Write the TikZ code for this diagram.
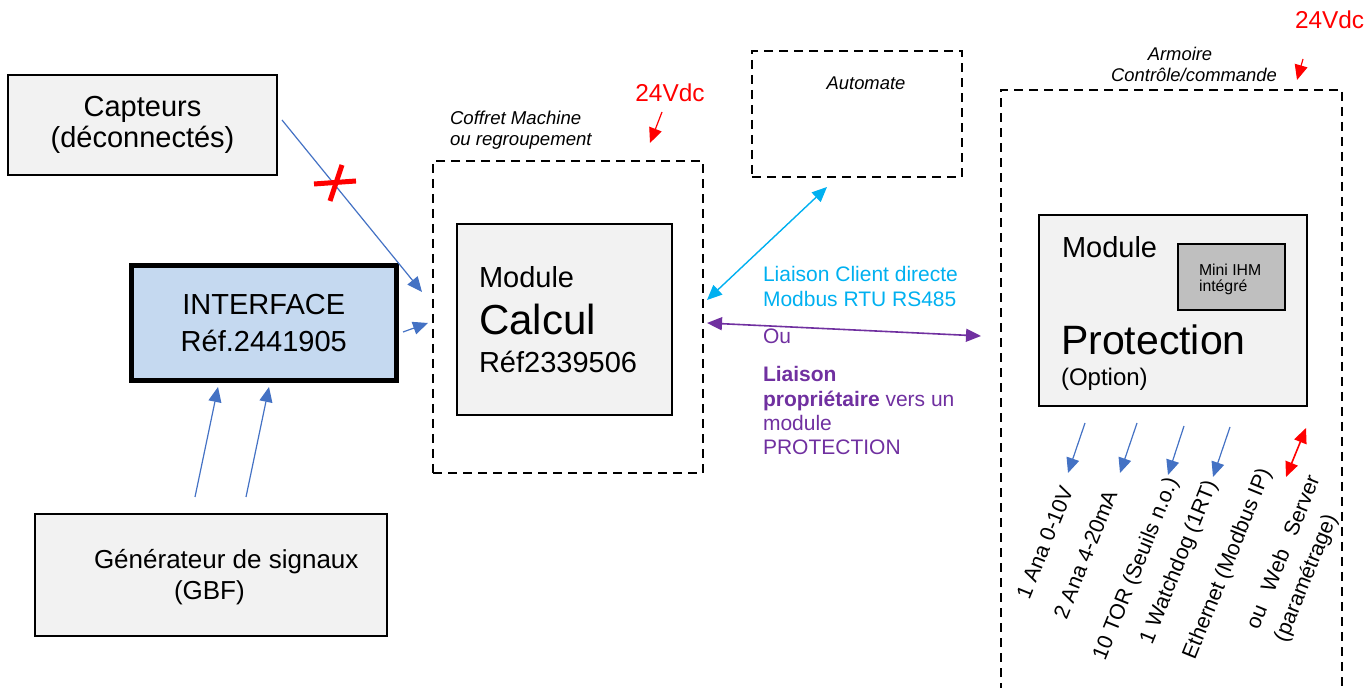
\documentclass[tikz,border=0pt]{standalone}
\usepackage{fontspec}
\setmainfont{Liberation Sans}
\usetikzlibrary{arrows.meta,calc}
\definecolor{boxgrey}{HTML}{F2F2F2}
\definecolor{ifblue}{HTML}{C5D9F0}
\definecolor{arrblue}{HTML}{4472C4}
\definecolor{cyanc}{HTML}{00B0F0}
\definecolor{purp}{HTML}{7030A0}
\definecolor{ihmgrey}{HTML}{BFBFBF}
\newcommand{\myfs}[2]{\fontsize{#1}{#2}\selectfont}
\begin{document}
\begin{tikzpicture}[x=0.5pt,y=-0.5pt,
  box/.style={draw=black,line width=1pt,fill=boxgrey,inner sep=0pt,outer sep=0pt},
  dbox/.style={draw=black,line width=1.3pt,dash pattern=on 4.5pt off 3pt,inner sep=0pt,outer sep=0pt},
  txt/.style={inner sep=0pt,outer sep=0pt,text=black},
  arrtip/.style={-{Triangle[length=7.5pt,width=6.5pt]}},
  darrtip/.style={{Triangle[length=7.5pt,width=6.5pt]}-{Triangle[length=7.5pt,width=6.5pt]}},
  bluearr/.style={draw=arrblue,line width=0.6pt,arrtip},
  rlab/.style={inner sep=0pt,outer sep=0pt,rotate=68,anchor=east,font=\myfs{10.7}{12}}
]
\useasboundingbox (0,0) rectangle (1364,688);

% --- left side boxes
\node[box,minimum width=134.5pt,minimum height=50pt,align=center,font=\myfs{14.5}{15.3}] (capt) at (142.5,125) {Capteurs\\(déconnectés)};
\node[draw=black,line width=2.5pt,fill=ifblue,inner sep=0pt,outer sep=0pt,minimum width=132.75pt,minimum height=57.5pt,align=center,font=\myfs{14.5}{18.3}] (iface) at (263.75,323) {INTERFACE\\Réf.2441905};
\node[box,minimum width=176pt,minimum height=61pt] (gen) at (210.5,575) {};
\node[txt,anchor=base west,font=\myfs{13}{15}] (gen1) at (94,569) {Générateur de signaux};
\node[txt,anchor=base west,font=\myfs{13}{15}] (gen2) at (174,600) {(GBF)};

% --- coffret machine
\node[dbox,minimum width=135pt,minimum height=156pt] (coffret) at (568,317) {};
\node[txt,anchor=base west,font=\myfs{9.3}{11}\itshape] (cof1) at (450,125) {Coffret Machine};
\node[txt,anchor=base west,font=\myfs{9.3}{11}\itshape] (cof2) at (450,146) {ou regroupement};
\node[txt,anchor=base,text=red,font=\myfs{12.2}{14}] (v1) at (670,102) {24Vdc};
\node[box,minimum width=107.5pt,minimum height=95.5pt] (calcbox) at (564.5,319.5) {};
\node[txt,anchor=base west,font=\myfs{14.5}{16}] (cal1) at (479,288) {Module};
\node[txt,anchor=base west,font=\myfs{21}{24}] (cal2) at (479,335) {Calcul};
\node[txt,anchor=base west,font=\myfs{14.5}{16}] (cal3) at (479,373) {Réf2339506};

% --- automate
\node[dbox,minimum width=105pt,minimum height=63pt] (auto) at (857,114) {};
\node[txt,anchor=base,font=\myfs{9.2}{11}\itshape] (autolab) at (866,90) {Automate};

% --- armoire
\coordinate (armTL) at (1001,90);
\coordinate (armTR) at (1342,90);
\coordinate (armL) at (1001,336);
\draw[dbox] (1001,692) -- (armTL) -- (armTR) -- (1342,692);
\node[txt,anchor=base,font=\myfs{9.2}{11}\itshape] (arm1) at (1180,61) {Armoire};
\node[txt,anchor=base,font=\myfs{9.2}{11}\itshape] (arm2) at (1194,82) {Contrôle/commande};
\node[txt,anchor=base west,text=red,font=\myfs{12.2}{14}] (v2) at (1295,29) {24Vdc};

\node[box,minimum width=134pt,minimum height=95.5pt] (prot) at (1173,310.5) {};
\node[draw=black,line width=1pt,fill=ihmgrey,inner sep=0pt,outer sep=0pt,minimum width=53.5pt,minimum height=33pt] (ihm) at (1231.5,277) {};
\node[txt,anchor=base west,font=\myfs{7.9}{9}] (ihm1) at (1199,276) {Mini IHM};
\node[txt,anchor=base west,font=\myfs{7.9}{9}] (ihm2) at (1199,292) {intégré};
\node[txt,anchor=base west,font=\myfs{14.5}{16}] (pr1) at (1062,258) {Module};
\node[txt,anchor=base west,font=\myfs{20.5}{24}] (pr2) at (1061,355) {Protection};
\node[txt,anchor=base west,font=\myfs{12}{14}] (pr3) at (1061,386) {(Option)};

% --- liaison texts
\node[txt,anchor=base west,text=cyanc,font=\myfs{10.5}{12.5}] (li1) at (763,282) {Liaison Client directe};
\node[txt,anchor=base west,text=cyanc,font=\myfs{10.5}{12.5}] (li2) at (763,307) {Modbus RTU RS485};
\node[txt,anchor=base west,text=purp,font=\myfs{10.5}{12.5}] (ou) at (763,344) {Ou};
\node[txt,anchor=base west,text=purp,font=\myfs{10.5}{12.5}] (lp1) at (763,382) {\textbf{Liaison}};
\node[txt,anchor=base west,text=purp,font=\myfs{10.5}{12.5}] (lp2) at (763,407) {\textbf{propriétaire} vers un};
\node[txt,anchor=base west,text=purp,font=\myfs{10.5}{12.5}] (lp3) at (763,431) {module};
\node[txt,anchor=base west,text=purp,font=\myfs{10.5}{12.5}] (lp4) at (763,455) {PROTECTION};

% --- rotated output labels
\node[rlab] (l1) at (1067,487) {1 Ana 0-10V};
\node[rlab] (l2) at (1111,491) {2 Ana 4-20mA};
\node[rlab] (l3) at (1173,479) {10 TOR (Seuils n.o.)};
\node[rlab] (l4) at (1212,482) {1 Watchdog (1RT)};
\node[rlab] (l5) at (1266,470) {Ethernet (Modbus IP)};
\node[rlab] (l6) at (1313,476) {\makebox[82pt][s]{ou Web Server}};
\node[rlab,anchor=west] (l7) at (1281,641) {(paramétrage)};

% --- connectors
\draw[bluearr] ($(capt.east)+(5,-5)$) -- ($(coffret.west)+(-11,-25)$);
\coordinate (xm) at (335,183);
\draw[red,line width=2.5pt] ($(xm)+(7,-18)$) -- ($(xm)+(-5,18)$);
\draw[red,line width=2.5pt] ($(xm)+(-21,1)$) -- ($(xm)+(21,-2)$);
\draw[bluearr] ($(iface.east)+(6.5,9)$) -- ($(coffret.west)+(-5,6)$);
\draw[bluearr] ($(gen.north)+(-15.5,-17)$) -- ($(iface.south)+(-45.75,6.5)$);
\draw[bluearr] ($(gen.north)+(35.5,-17)$) -- ($(iface.south)+(5.25,6.5)$);
\draw[cyanc,line width=0.7pt,darrtip] ($(coffret.east)+(4,-17)$) -- ($(auto.south)+(-30,10)$);
\draw[purp,line width=0.8pt,darrtip] ($(coffret.east)+(4,6)$) -- ($(armL)+(-20,0)$);
\draw[red,line width=0.6pt,arrtip] ($(v1.base)+(-8,10)$) -- ($(coffret.north)+(82,-18)$);
\draw[red,line width=0.6pt,arrtip] ($(v2.base west)+(8,30)$) -- ($(armTR)+(-45,-10)$);
\draw[bluearr] ($(prot.south)+(-88,17)$) -- ($(l1.east)+(1,-14)$);
\draw[bluearr] ($(prot.south)+(-36,17)$) -- ($(l2.east)+(9,-18)$);
\draw[bluearr] ($(prot.south)+(11,20)$) -- ($(l3.east)+(-5,-4)$);
\draw[bluearr] ($(prot.south)+(57,21)$) -- ($(l4.east)+(1,-5)$);
\draw[red,line width=0.8pt,darrtip] ($(prot.south)+(133,22)$) -- ($(l6.east)+(-27,1)$);
\end{tikzpicture}
\end{document}
